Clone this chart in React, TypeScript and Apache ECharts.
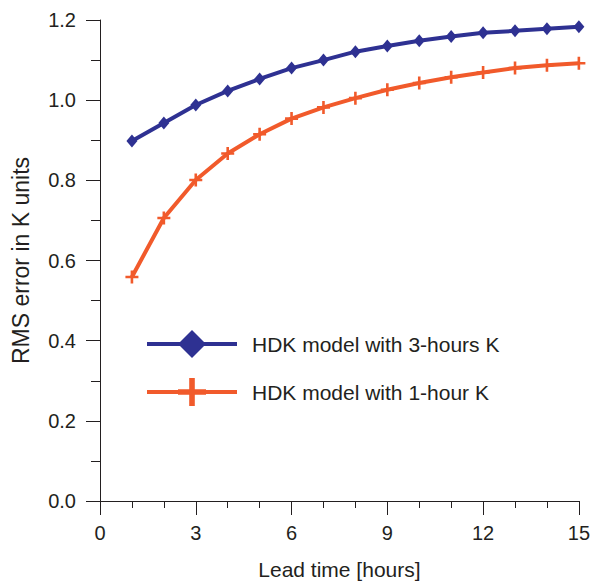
import React, { useEffect, useRef } from "react";
import * as echarts from "echarts";

const leadHours = [1, 2, 3, 4, 5, 6, 7, 8, 9, 10, 11, 12, 13, 14, 15];
const rms3h = [0.898, 0.943, 0.988, 1.023, 1.053, 1.08, 1.1, 1.121, 1.135, 1.148, 1.159, 1.168, 1.173, 1.178, 1.183];
const rms1h = [0.559, 0.706, 0.801, 0.867, 0.915, 0.954, 0.982, 1.005, 1.026, 1.043, 1.057, 1.069, 1.08, 1.087, 1.092];
const seriesNames = ["HDK model with 3-hours K", "HDK model with 1-hour K"];

const BLUE = "#2e3192";
const ORANGE = "#f15a2b";
const AXIS = "#231f20";
const FONT = "'Liberation Sans', Arial, Helvetica, sans-serif";
const PLUS = "path://M4,0H6V4H10V6H6V10H4V6H0V4H4Z";

export default function App() {
  const ref = useRef<HTMLDivElement>(null);
  useEffect(() => {
    if (!ref.current) return;
    const chart = echarts.init(ref.current, undefined, { renderer: "svg" });
    chart.setOption({
      animation: false,
      backgroundColor: "#ffffff",
      textStyle: { fontFamily: FONT },
      grid: { left: 100, right: 11, top: 20, bottom: 81, containLabel: false },
      legend: {
        orient: "vertical",
        left: 140,
        top: 325,
        itemWidth: 90,
        itemHeight: 35,
        itemGap: 20,
        lineStyle: { width: 4 },
        textStyle: { fontFamily: FONT, fontSize: 21, color: "#231f20", padding: [0, 0, 0, 10] },
        data: seriesNames,
      },
      xAxis: {
        type: "value",
        min: 0,
        max: 15,
        interval: 3,
        name: "Lead time [hours]",
        nameLocation: "middle",
        nameGap: 58,
        nameTextStyle: { fontFamily: FONT, fontSize: 21, color: "#231f20" },
        axisLine: { show: true, onZero: false, lineStyle: { color: AXIS, width: 1 } },
        axisTick: { show: true, inside: false, length: 14, lineStyle: { color: AXIS, width: 1 } },
        minorTick: { show: true, splitNumber: 3, length: 7, lineStyle: { color: AXIS, width: 1 } },
        axisLabel: { margin: 22, fontFamily: FONT, fontSize: 20, color: "#231f20" },
        splitLine: { show: false },
      },
      yAxis: {
        type: "value",
        min: 0,
        max: 1.2,
        interval: 0.2,
        name: "RMS error in K units",
        nameLocation: "middle",
        nameGap: 68,
        nameTextStyle: { fontFamily: FONT, fontSize: 23, color: "#231f20" },
        axisLine: { show: true, onZero: false, lineStyle: { color: AXIS, width: 1 } },
        axisTick: { show: true, inside: false, length: 14, lineStyle: { color: AXIS, width: 1 } },
        minorTick: { show: true, splitNumber: 2, length: 9, lineStyle: { color: AXIS, width: 1 } },
        axisLabel: {
          margin: 24,
          fontFamily: FONT,
          fontSize: 20,
          color: "#231f20",
          formatter: (v: number) => v.toFixed(1),
        },
        splitLine: { show: false },
      },
      series: [
        {
          name: seriesNames[0],
          type: "line",
          data: leadHours.map((h, i) => [h, rms3h[i]]),
          symbol: "diamond",
          symbolSize: [11, 13],
          showAllSymbol: true,
          lineStyle: { color: BLUE, width: 4 },
          itemStyle: { color: BLUE },
        },
        {
          name: seriesNames[1],
          type: "line",
          data: leadHours.map((h, i) => [h, rms1h[i]]),
          symbol: PLUS,
          symbolSize: 13,
          showAllSymbol: true,
          lineStyle: { color: ORANGE, width: 4 },
          itemStyle: { color: ORANGE },
        },
      ],
    });
    return () => chart.dispose();
  }, []);
  return (
    <div
      ref={ref}
      style={{ position: "fixed", left: 0, top: 0, width: 593, height: 585, background: "#fff" }}
    />
  );
}
